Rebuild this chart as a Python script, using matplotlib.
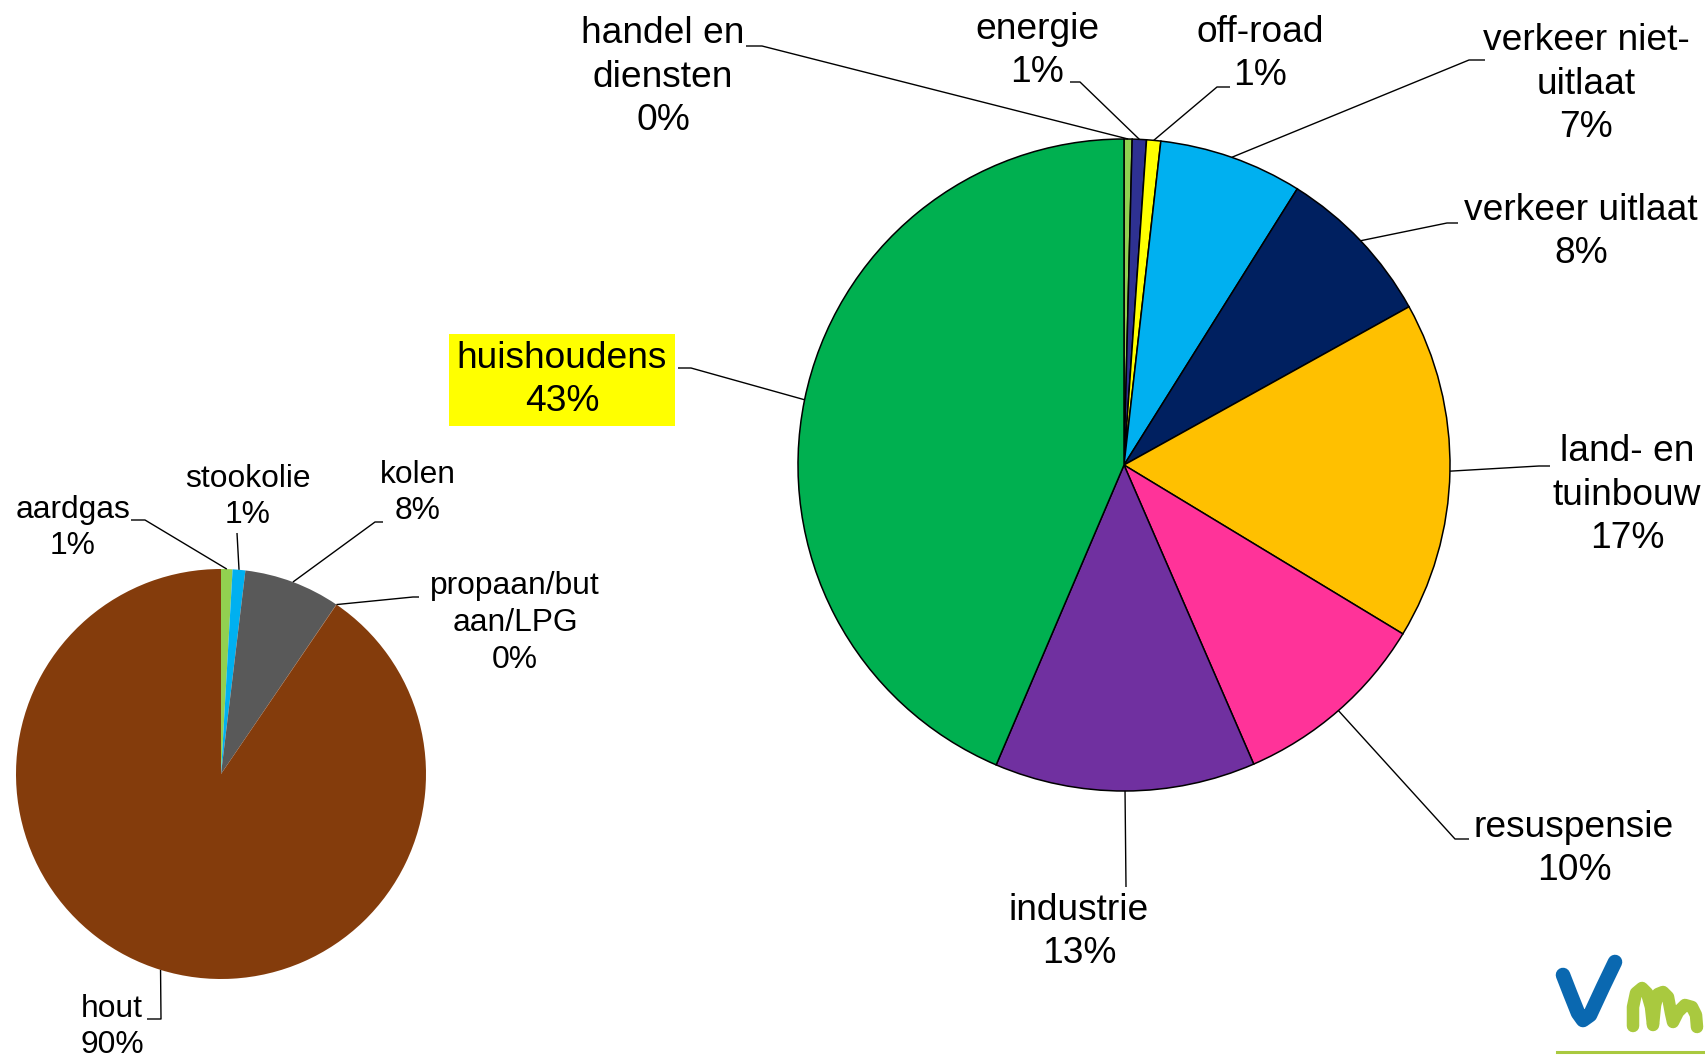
import numpy as np
import matplotlib.pyplot as plt

W, H = 1706, 1060

# emission shares by sector (%)
sectors = ['handel en\ndiensten', 'energie', 'off-road', 'verkeer niet-\nuitlaat',
           'verkeer uitlaat', 'land- en\ntuinbouw', 'resuspensie', 'industrie',
           'huishoudens']
sector_share = [0.4, 0.7, 0.7, 7.1, 8.0, 16.7, 9.8, 12.9, 43.5]
sector_pct = ['0%', '1%', '1%', '7%', '8%', '17%', '10%', '13%', '43%']
sector_colors = ['#92D050', '#2E3192', '#FFFF00', '#00B0F0', '#002060',
                 '#FFC000', '#FF3399', '#7030A0', '#00B050']

# households split by fuel (%)
fuels = ['aardgas', 'stookolie', 'kolen', 'propaan/but\naan/LPG', 'hout']
fuel_share = [0.9, 1.0, 7.6, 0.02, 90.4]
fuel_pct = ['1%', '1%', '8%', '0%', '90%']
fuel_colors = ['#92D050', '#00B0F0', '#595959', '#843C0C', '#843C0C']

# label layout in pixel coords (y down): text centre, line end at text, elbow
big_layout = [((663, 77), (746, 46), (762, 46)),
              ((1037, 51), (1070, 82), (1080, 82)),
              ((1260, 54), (1230, 87), (1217, 87)),
              ((1586, 84), (1485, 60), (1469, 60)),
              ((1581, 232), (1458, 223), (1447, 223)),
              ((1627, 495), (1550, 466), (1539, 466)),
              ((1574, 849), (1469, 839), (1455, 839)),
              ((1079, 932), (1126, 887), (1126, 887)),
              ((562, 380), (678, 368), (691, 368))]
small_layout = [((73, 528), (131, 520), (145, 520)),
                ((248, 497), (237, 533), (237, 533)),
                ((418, 493), (383, 522), (375, 522)),
                ((515, 623), (419, 597), (413, 597)),
                ((112, 1027), (147, 1019), (161, 1019))]

plt.rcParams['font.family'] = ['Liberation Sans', 'DejaVu Sans']

fig = plt.figure(figsize=(W / 100, H / 100), dpi=100)
ax = fig.add_axes([0, 0, 1, 1])


def yy(y):
    return H - y


def draw_pie(shares, colors, names, pcts, layout, center, radius, fs, edge):
    wp = dict(edgecolor='black', linewidth=1.1) if edge else dict(linewidth=0)
    wedges, _ = ax.pie(shares, colors=colors, startangle=90, counterclock=False,
                       center=(center[0], yy(center[1])), radius=radius,
                       wedgeprops=wp)
    for w, name, pct, (tc, tp, el) in zip(wedges, names, pcts, layout):
        th = np.deg2rad((w.theta1 + w.theta2) / 2)
        ax_ = center[0] + radius * np.cos(th)
        ay_ = yy(center[1]) + radius * np.sin(th)
        ax.plot([ax_, el[0], tp[0]], [ay_, yy(el[1]), yy(tp[1])],
                color='black', lw=1.0, solid_capstyle='butt')
        t = ax.text(tc[0], yy(tc[1]), name + '\n' + pct, ha='center',
                    va='center', ma='center', fontsize=fs, linespacing=1.3)
        if name == 'huishoudens':
            t.set_bbox(dict(boxstyle='square,pad=0.2', fc='#FFFF00', ec='none'))


draw_pie(sector_share, sector_colors, sectors, sector_pct, big_layout,
         (1124, 465), 326, 26.7, True)
draw_pie(fuel_share, fuel_colors, fuels, fuel_pct, small_layout,
         (221, 774), 205, 22.9, False)

# logo
vx = [1563, 1570, 1578, 1583, 1590, 1603, 1615]
vy = [975, 993, 1013, 1020, 1015, 987, 962]
ax.plot(vx, [yy(v) for v in vy], color='#0A68B0', lw=10.5,
        solid_capstyle='round', solid_joinstyle='round')
mx = [1633, 1633, 1636, 1642, 1647, 1651, 1653, 1655, 1658, 1663, 1668, 1671,
      1673, 1678, 1685, 1692, 1696, 1697]
my = [1026, 1007, 993, 988, 993, 1007, 1025, 1005, 994, 992, 997, 1013,
      1022, 1012, 1005, 1007, 1015, 1027]
ax.plot(mx, [yy(v) for v in my], color='#A9C93F', lw=9,
        solid_capstyle='round', solid_joinstyle='round')
ax.plot([1557, 1706], [yy(1052), yy(1052)], color='#A9C93F', lw=2.2)

ax.set_xlim(0, W)
ax.set_ylim(0, H)
ax.set_aspect('equal')
ax.axis('off')

fig.savefig('out.png', dpi=100)
